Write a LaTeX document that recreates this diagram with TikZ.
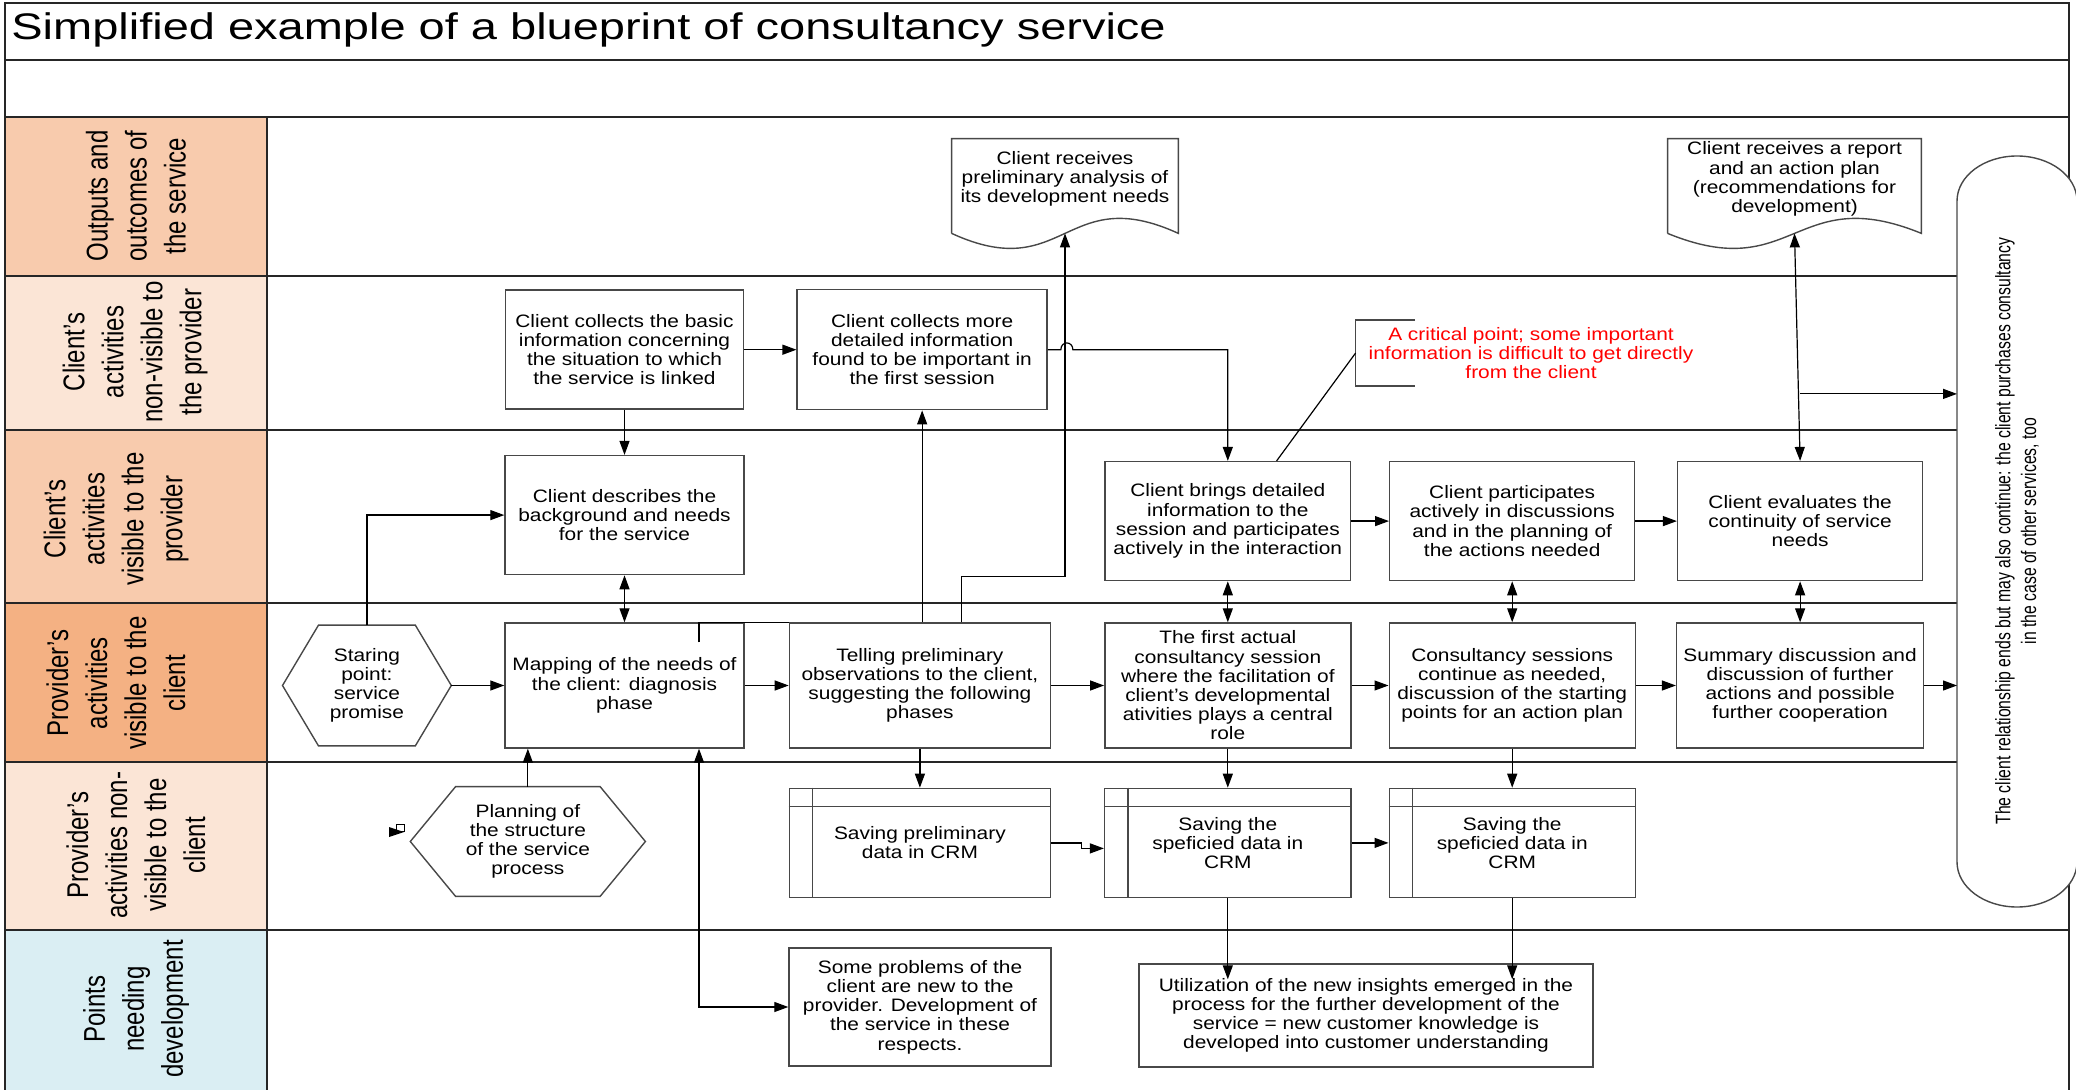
\documentclass[tikz,border=0pt]{standalone}
\usepackage{fontspec}
\setmainfont{Liberation Sans}[FakeStretch=1.16]
\newfontfamily\titlefont{Liberation Sans}[FakeStretch=1.27]
\newfontfamily\lanefont{Liberation Sans}[FakeStretch=0.8]
\newfontfamily\capfont{Liberation Sans}[FakeStretch=0.75]
\usepackage{tikz}
\usetikzlibrary{arrows.meta, positioning, calc}

\definecolor{laneA}{HTML}{F8CBAD}
\definecolor{laneB}{HTML}{FBE5D6}
\definecolor{laneC}{HTML}{F4B183}
\definecolor{laneD}{HTML}{DAEEF3}
\definecolor{boxline}{HTML}{484848}

\tikzset{
	box/.style={rectangle, draw=boxline, line width=0.7pt, align=center, inner sep=0pt, font=\fontsize{9}{9.6}\selectfont},
	txt/.style={align=center, inner sep=0pt, font=\fontsize{9}{9.6}\selectfont},
	lanetxt/.style={rotate=90, align=center, inner sep=0pt, font=\lanefont\fontsize{15}{19.5}\selectfont},
	laneline/.style={line width=1pt, black!85},
	shapeline/.style={draw=boxline, line width=0.7pt},
	conn/.style={line width=0.6pt},
	arr/.style={conn, -{Triangle[length=7pt,width=5pt]}},
	darr/.style={conn, {Triangle[length=7pt,width=5pt]}-{Triangle[length=7pt,width=5pt]}}
}

\begin{document}
\begin{tikzpicture}[x=0.5pt, y=-0.5pt]
		\useasboundingbox (0,0) rectangle (2076,1090);
		% lane heads
		\fill[laneA] (5,117) rectangle (267,276);
		\fill[laneB] (5,276) rectangle (267,430);
		\fill[laneA] (5,430) rectangle (267,603);
		\fill[laneC] (5,603) rectangle (267,762);
		\fill[laneB] (5,762) rectangle (267,930);
		\fill[laneD] (5,930) rectangle (267,1095);
		\draw[laneline] (5,1095) -- (5,3) -- (2069,3) -- (2069,1095);
		\draw[laneline] (5,60) -- (2069,60);
		\draw[laneline] (5,117) -- (2069,117);
		\draw[laneline] (5,276) -- (1957,276);
		\draw[laneline] (5,430) -- (1957,430);
		\draw[laneline] (5,603) -- (1957,603);
		\draw[laneline] (5,762) -- (1957,762);
		\draw[laneline] (5,930) -- (2069,930);
		\draw[laneline] (267,117) -- (267,1095);
		\node[anchor=west, inner sep=0pt, font=\titlefont\fontsize{18.5}{22}\selectfont] (title) at (11,30) {Simplified example of a blueprint of consultancy service};
		\node[lanetxt] (lOut) at (136,196) {Outputs and\\outcomes of\\the service};
		\node[lanetxt] (lCliHid) at (135,352) {Client’s\\activities\\non-visible to\\the provider};
		\node[lanetxt] (lCliVis) at (116,519) {Client’s\\activities\\visible to the\\provider};
		\node[lanetxt] (lProVis) at (116,683) {Provider’s\\activities\\visible to the\\client};
		\node[lanetxt] (lProHid) at (136,845) {Provider’s\\activities non-\\visible to the\\client};
		\node[lanetxt] (lDev) at (136,1009) {Points\\needing\\development};

		% end of the service
		\draw[shapeline, fill=white] (1957,201) .. controls (1957,176) and (1984,156) .. (2017,156) .. controls (2050,156) and (2077,176) .. (2077,201) -- (2077,862) .. controls (2077,887) and (2050,907) .. (2017,907) .. controls (1984,907) and (1957,887) .. (1957,862) -- cycle;
		\node[rotate=90, align=center, inner sep=0pt, font=\capfont\fontsize{10.5}{12.85}\selectfont] (capT) at (2017,531) {The client relationship ends but may also continue: the client purchases consultancy\\in the case of other services, too};
		\coordinate (capW) at (1957,531);

		% provider visible
		\node[box, minimum width=119.5pt, minimum height=62.5pt] (map) at (624.5,685.5) {Mapping of the needs of\\the client: diagnosis\\phase};
		\node[box, minimum width=130.5pt, minimum height=62.5pt, right=22pt of map] (tell) {Telling preliminary\\observations to the client,\\suggesting the following\\phases};
		\node[box, minimum width=123pt, minimum height=62.5pt, right=26.5pt of tell] (first) {The first actual\\consultancy session\\where the facilitation of\\client’s developmental\\ativities plays a central\\role};
		\node[box, minimum width=123pt, minimum height=62.5pt, right=18.5pt of first] (sess) {Consultancy sessions\\continue as needed,\\discussion of the starting\\points for an action plan};
		\node[box, minimum width=123.5pt, minimum height=62.5pt, right=20pt of sess] (summ) {Summary discussion and\\discussion of further\\actions and possible\\further cooperation};
		\node[txt, minimum width=84pt, minimum height=60pt, left=26.5pt of map] (start) {Staring\\point:\\service\\promise};
		\draw[shapeline] (start.west) -- ([xshift=18pt]start.north west) -- ([xshift=-18pt]start.north east) -- (start.east) -- ([xshift=-18pt]start.south east) -- ([xshift=18pt]start.south west) -- cycle;

		% client visible / non-visible
		\node[box, minimum width=119.5pt, minimum height=59.5pt, above=23.5pt of map] (descr) {Client describes the\\background and needs\\for the service};
		\node[box, minimum width=119.25pt, minimum height=59.5pt, above=22.5pt of descr] (basic) {Client collects the basic\\information concerning\\the situation to which\\the service is linked};
		\node[box, minimum width=125pt, minimum height=60pt, right=26pt of basic] (more) {Client collects more\\detailed information\\found to be important in\\the first session};
		\node[box, minimum width=122.75pt, minimum height=59.5pt, above=20.5pt of first] (brings) {Client brings detailed\\information to the\\session and participates\\actively in the interaction};
		\node[box, minimum width=122.5pt, minimum height=59.5pt, above=20.5pt of sess] (part) {Client participates\\actively in discussions\\and in the planning of\\the actions needed};
		\node[box, minimum width=122.5pt, minimum height=59.5pt, above=20.5pt of summ] (evalc) {Client evaluates the\\continuity of service\\needs};
		\node[txt, text=red] (crit) at (1531,353) {A critical point; some important\\information is difficult to get directly\\from the client};
		\draw[conn, draw=boxline] (1415,320) -- (1355.6,320) -- (1355.6,386) -- (1415,386);
		\coordinate (critL) at (1355.6,353);

		% outputs
		\node[minimum width=113pt, minimum height=47pt, inner sep=0pt] (prelim) at (1065,186) {};
		\node[txt] (prelimT) at ([yshift=3.5pt]prelim.center) {Client receives\\preliminary analysis of\\its development needs};
		\draw[shapeline] (prelim.south west) -- (prelim.north west) -- (prelim.north east) -- (prelim.south east) .. controls ([yshift=26pt]prelim.south) and ([yshift=-26pt]prelim.south) .. (prelim.south west);
		\node[minimum width=126.5pt, minimum height=47pt, inner sep=0pt] (report) at (1794.5,186) {};
		\node[txt] (reportT) at ([yshift=3.5pt]report.center) {Client receives a report\\and an action plan\\(recommendations for\\development)};
		\draw[shapeline] (report.south west) -- (report.north west) -- (report.north east) -- (report.south east) .. controls ([yshift=26pt]report.south) and ([yshift=-26pt]report.south) .. (report.south west);

		% provider non-visible
		\node[box, minimum width=130.5pt, minimum height=54.5pt, below=19.5pt of tell] (savep) {Saving preliminary\\data in CRM};
		\node[box, minimum width=123.2pt, minimum height=54.5pt, below=19.5pt of first] (save1) {Saving the\\speficied data in\\CRM};
		\node[box, minimum width=123pt, minimum height=54.5pt, below=19.5pt of sess] (save2) {Saving the\\speficied data in\\CRM};
		\draw[shapeline] ([yshift=-9.5pt]savep.north west) -- ([yshift=-9.5pt]savep.north east);
		\draw[shapeline] ([xshift=12pt]savep.north west) -- ([xshift=12pt]savep.south west);
		\draw[shapeline] ([yshift=-9.5pt]save1.north west) -- ([yshift=-9.5pt]save1.north east);
		\draw[shapeline] ([xshift=12pt]save1.north west) -- ([xshift=12pt]save1.south west);
		\draw[shapeline] ([yshift=-9.5pt]save2.north west) -- ([yshift=-9.5pt]save2.north east);
		\draw[shapeline] ([xshift=12pt]save2.north west) -- ([xshift=12pt]save2.south west);
		\node[txt, minimum width=117.15pt, minimum height=54.5pt] (plan) at (527.85,841.5) {Planning of\\the structure\\of the service\\process};
		\draw[shapeline] (plan.west) -- ([xshift=22.65pt]plan.north west) -- ([xshift=-22.65pt]plan.north east) -- (plan.east) -- ([xshift=-22.65pt]plan.south east) -- ([xshift=22.65pt]plan.south west) -- cycle;
		\draw[line width=0.5pt] (396,824) rectangle (404,831);
		\fill (389,827) -- (404,832) -- (389,837) -- cycle;

		% development
		\node[box, minimum width=131pt, minimum height=59pt] (problems) at (920,1007) {Some problems of the\\client are new to the\\provider. Development of\\the service in these\\respects.};
		\node[box, minimum width=227pt, minimum height=51.5pt] (util) at (1366,1015.5) {Utilization of the new insights emerged in the\\process for the further development of the\\service = new customer knowledge is\\developed into customer understanding};

		% connectors
		\draw[arr] (start.north) |- (descr.west);
		\draw[arr] (start.east) -- (map.west);
		\draw[arr] (basic.south) -- (descr.north);
		\draw[darr] (descr.south) -- (map.north);
		\draw[arr] (basic.east) -- (more.west);
		\draw[arr] (map.east) -- (tell.west);
		\draw[arr] (tell.east) -- (first.west);
		\draw[arr] (first.east) -- (sess.west);
		\draw[arr] (sess.east) -- (summ.west);
		\draw[arr] (summ.east) -- (summ.east -| capW);
		\draw[arr] (brings.east) -- (part.west);
		\draw[arr] (part.east) -- (evalc.west);
		\draw[darr] (brings.south) -- (first.north);
		\draw[darr] (part.south) -- (sess.north);
		\draw[darr] (evalc.south) -- (summ.north);
		\draw[darr] (report.south) -- (evalc.north);
		\coordinate (split) at ([yshift=33.5pt]evalc.north);
		\draw[arr] (split) -- (split -| capW);
		\draw[arr] (more.south |- tell.north) -- (more.south);
		\draw[arr] ([xshift=20.75pt]tell.north) -- ++(0,-46) -| (prelim.south);
		\draw[arr] (more.east) -- ++(13,0) .. controls +(0,-9) and +(0,-9) .. ++(12,0) -| (brings.north);
		\draw[conn] (critL) -- ([xshift=24.4pt]brings.north);
		\draw[arr] (tell.south) -- (savep.north);
		\draw[arr] (first.south) -- (save1.north);
		\draw[arr] (sess.south) -- (save2.north);
		\draw[arr] (savep.east) -- ++(30,0) |- ([yshift=-2.75pt]save1.west);
		\draw[arr] (save1.east) -- (save2.west);
		\draw[arr] (save1.south) -- ($(save1.south |- util.north)+(0,16)$);
		\draw[arr] (save2.south) -- ($(save2.south |- util.north)+(0,16)$);
		\draw[arr] (plan.north) -- (plan.north |- map.south);
		\draw[darr] ([xshift=37.25pt]map.south) |- (problems.west);
		\draw[conn] ([xshift=37.25pt,yshift=-10pt]map.north) -- ([xshift=37.25pt]map.north) -- (tell.north west);
\end{tikzpicture}
\end{document}
